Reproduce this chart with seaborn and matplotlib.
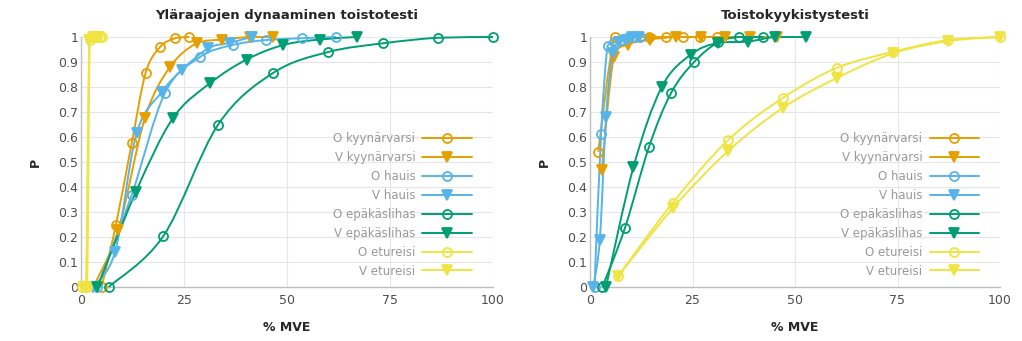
import matplotlib
matplotlib.use("Agg")
import matplotlib.pyplot as plt
from matplotlib.path import Path
from matplotlib.patches import PathPatch
from matplotlib.lines import Line2D
import seaborn as sns
import pandas as pd

sns.set_theme(style="white")
plt.rcParams['font.family'] = ['DejaVu Sans']

titles = ["Yläraajojen dynaaminen toistotesti", "Toistokyykistystesti"]
labels = ["O kyynärvarsi", "V kyynärvarsi", "O hauis", "V hauis",
          "O epäkäslihas", "V epäkäslihas", "O etureisi", "V etureisi"]
colors = ["#E69F00", "#E69F00", "#56B4E9", "#56B4E9",
          "#009E73", "#009E73", "#F0E442", "#F0E442"]
markers = ["o", "v", "o", "v", "o", "v", "o", "v"]

# Left panel: Yläraajojen dynaaminen toistotesti
L_O_kyy_x = [5.0, 8.5, 12.3, 15.7, 19.2, 22.8, 26.3]
L_O_kyy_y = [0.0, 0.25, 0.575, 0.857, 0.96, 0.995, 1.0]
L_V_kyy_x = [3.0, 9.1, 15.5, 21.6, 28.1, 34.3, 41.0, 46.7]
L_V_kyy_y = [0.0, 0.23, 0.675, 0.88, 0.975, 0.99, 1.0, 1.0]
L_O_hau_x = [4.0, 12.3, 20.4, 28.9, 36.8, 45.0, 53.6, 61.9]
L_O_hau_y = [0.0, 0.368, 0.777, 0.92, 0.968, 0.988, 0.995, 1.0]
L_V_hau_x = [2.8, 8.25, 13.5, 19.6, 24.6, 30.9, 36.2, 41.4]
L_V_hau_y = [0.0, 0.14, 0.615, 0.78, 0.87, 0.955, 0.977, 1.0]
L_O_epa_x = [6.7, 20.0, 33.3, 46.7, 60.0, 73.4, 86.7, 100.0]
L_O_epa_y = [0.0, 0.204, 0.65, 0.857, 0.94, 0.975, 0.997, 1.0]
L_V_epa_x = [4.0, 13.3, 22.3, 31.3, 40.2, 49.1, 58.0, 66.9]
L_V_epa_y = [0.0, 0.38, 0.675, 0.815, 0.91, 0.968, 0.99, 1.0]
L_O_etu_x = [0.3, 0.9, 1.5, 2.1, 2.7, 3.3, 3.9, 4.5, 5.1]
L_O_etu_y = [0.0, 0.0, 0.0, 0.99, 1.0, 1.0, 1.0, 1.0, 1.0]
L_V_etu_x = [0.4, 1.2, 2.0, 2.8, 3.6, 4.4]
L_V_etu_y = [0.0, 0.0, 0.99, 1.0, 1.0, 1.0]

# Right panel: Toistokyykistystesti
R_O_kyy_x = [2.0, 6.0, 10.2, 14.4, 18.5, 22.7, 26.8, 30.9]
R_O_kyy_y = [0.541, 1.0, 1.0, 1.0, 1.0, 1.0, 1.0, 1.0]
R_V_kyy_x = [2.9, 5.8, 9.2, 14.6, 21.0, 27.0, 33.0, 39.0, 45.5]
R_V_kyy_y = [0.47, 0.92, 0.97, 0.99, 1.0, 1.0, 1.0, 1.0, 1.0]
R_O_hau_x = [1.1, 2.7, 4.3, 5.9, 7.5, 9.1, 10.7, 12.3]
R_O_hau_y = [0.0, 0.612, 0.965, 0.98, 0.99, 0.995, 1.0, 1.0]
R_V_hau_x = [0.8, 2.4, 3.9, 5.5, 7.1, 8.7, 10.3, 11.9]
R_V_hau_y = [0.0, 0.19, 0.68, 0.935, 0.98, 0.99, 1.0, 1.0]
R_O_epa_x = [3.0, 8.5, 14.4, 19.8, 25.4, 31.3, 36.4, 42.3]
R_O_epa_y = [0.0, 0.235, 0.561, 0.777, 0.90, 0.98, 1.0, 1.0]
R_V_epa_x = [3.9, 10.6, 17.5, 24.6, 31.3, 38.6, 45.1, 52.8]
R_V_epa_y = [0.0, 0.48, 0.80, 0.93, 0.977, 0.982, 1.0, 1.0]
R_O_etu_x = [6.9, 20.2, 33.7, 47.1, 60.3, 74.0, 87.4, 100.0]
R_O_etu_y = [0.044, 0.337, 0.588, 0.757, 0.877, 0.941, 0.988, 1.0]
R_V_etu_x = [6.9, 20.2, 33.7, 47.1, 60.3, 74.0, 87.4, 100.0]
R_V_etu_y = [0.044, 0.315, 0.544, 0.717, 0.837, 0.935, 0.984, 1.0]

left_series = [(L_O_kyy_x, L_O_kyy_y), (L_V_kyy_x, L_V_kyy_y), (L_O_hau_x, L_O_hau_y),
               (L_V_hau_x, L_V_hau_y), (L_O_epa_x, L_O_epa_y), (L_V_epa_x, L_V_epa_y),
               (L_O_etu_x, L_O_etu_y), (L_V_etu_x, L_V_etu_y)]
right_series = [(R_O_kyy_x, R_O_kyy_y), (R_V_kyy_x, R_V_kyy_y), (R_O_hau_x, R_O_hau_y),
                (R_V_hau_x, R_V_hau_y), (R_O_epa_x, R_O_epa_y), (R_V_epa_x, R_V_epa_y),
                (R_O_etu_x, R_O_etu_y), (R_V_etu_x, R_V_etu_y)]

x_ticks = [0, 25, 50, 75, 100]
y_ticks = [0, 0.1, 0.2, 0.3, 0.4, 0.5, 0.6, 0.7, 0.8, 0.9, 1.0]
y_ticklabels = ["0", "0.1", "0.2", "0.3", "0.4", "0.5", "0.6", "0.7", "0.8", "0.9", "1"]


def smooth_path(xs, ys, sx, sy):
    """Spreadsheet-style smoothed line (cubic Bezier through the data points)."""
    pts = [(x * sx, y * sy) for x, y in zip(xs, ys)]
    n = len(pts)
    verts = [pts[0]]
    codes = [Path.MOVETO]
    for i in range(n - 1):
        p0 = pts[i - 1] if i > 0 else pts[i]
        p1 = pts[i]
        p2 = pts[i + 1]
        p3 = pts[i + 2] if i + 2 < n else pts[i + 1]
        c1 = [p1[0] + (p2[0] - p0[0]) / 6, p1[1] + (p2[1] - p0[1]) / 6]
        c2 = [p2[0] - (p3[0] - p1[0]) / 6, p2[1] - (p3[1] - p1[1]) / 6]
        lo, hi = min(p1[1], p2[1]), max(p1[1], p2[1])
        lox, hix = min(p1[0], p2[0]), max(p1[0], p2[0])
        for c in (c1, c2):
            c[1] = min(max(c[1], lo), hi)
            c[0] = min(max(c[0], lox), hix)
        verts += [tuple(c1), tuple(c2), p2]
        codes += [Path.CURVE4] * 3
    verts = [(vx / sx, vy / sy) for vx, vy in verts]
    return Path(verts, codes)


fig = plt.figure(figsize=(10.22, 3.41), dpi=100)
ax_l = fig.add_axes([81 / 1022, 54 / 341, 412 / 1022, 250 / 341])
ax_r = fig.add_axes([590 / 1022, 54 / 341, 410 / 1022, 250 / 341])

for ax, series, title in [(ax_l, left_series, titles[0]), (ax_r, right_series, titles[1])]:
    handles = []
    for (xs, ys), lab, col, mk in zip(series, labels, colors, markers):
        df = pd.DataFrame({"x": xs, "y": ys})
        mfc = "none" if mk == "o" else col
        ms = 6.5 if mk == "o" else 7
        sns.lineplot(data=df, x="x", y="y", ax=ax, sort=False, color=col,
                     marker=mk, markersize=ms, linestyle="none",
                     markerfacecolor=mfc, markeredgecolor=col, markeredgewidth=1.3,
                     clip_on=False, zorder=4, legend=False)
        ax.add_patch(PathPatch(smooth_path(xs, ys, 4.12, 250.0), facecolor="none",
                               edgecolor=col, linewidth=1.4, zorder=3, clip_on=False))
        handles.append(Line2D([], [], color=col, marker=mk, markersize=ms, linewidth=1.4,
                              markerfacecolor=mfc, markeredgecolor=col,
                              markeredgewidth=1.3, label=lab))
    ax.set_xlim(0, 100)
    ax.set_ylim(0, 1)
    ax.set_xticks(x_ticks)
    ax.set_yticks(y_ticks)
    ax.set_yticklabels(y_ticklabels)
    ax.grid(True, color="#e6e6e6", linewidth=0.8)
    ax.set_axisbelow(True)
    for s in ["top", "right"]:
        ax.spines[s].set_visible(False)
    for s in ["left", "bottom"]:
        ax.spines[s].set_color("#bfbfbf")
        ax.spines[s].set_linewidth(1.0)
    ax.tick_params(axis="both", labelsize=9, colors="#4d4d4d", length=3, width=0.8,
                   color="#bfbfbf", pad=2)
    ax.tick_params(axis="y", length=0)
    ax.set_xlabel("% MVE", fontsize=9, fontweight="bold", color="#262626", labelpad=10)
    ax.set_ylabel("P", fontsize=9, fontweight="bold", color="#262626", labelpad=12)
    ax.set_title(title, fontsize=9.5, fontweight="bold", color="#262626", pad=13)
    ax.legend(handles=handles, loc="lower right", bbox_to_anchor=(0.975, -0.005),
              frameon=False, markerfirst=False, fontsize=8.5, labelcolor="#999999",
              handlelength=4.2, labelspacing=0.5, handletextpad=0.6)

fig.savefig("out.png", dpi=100)
